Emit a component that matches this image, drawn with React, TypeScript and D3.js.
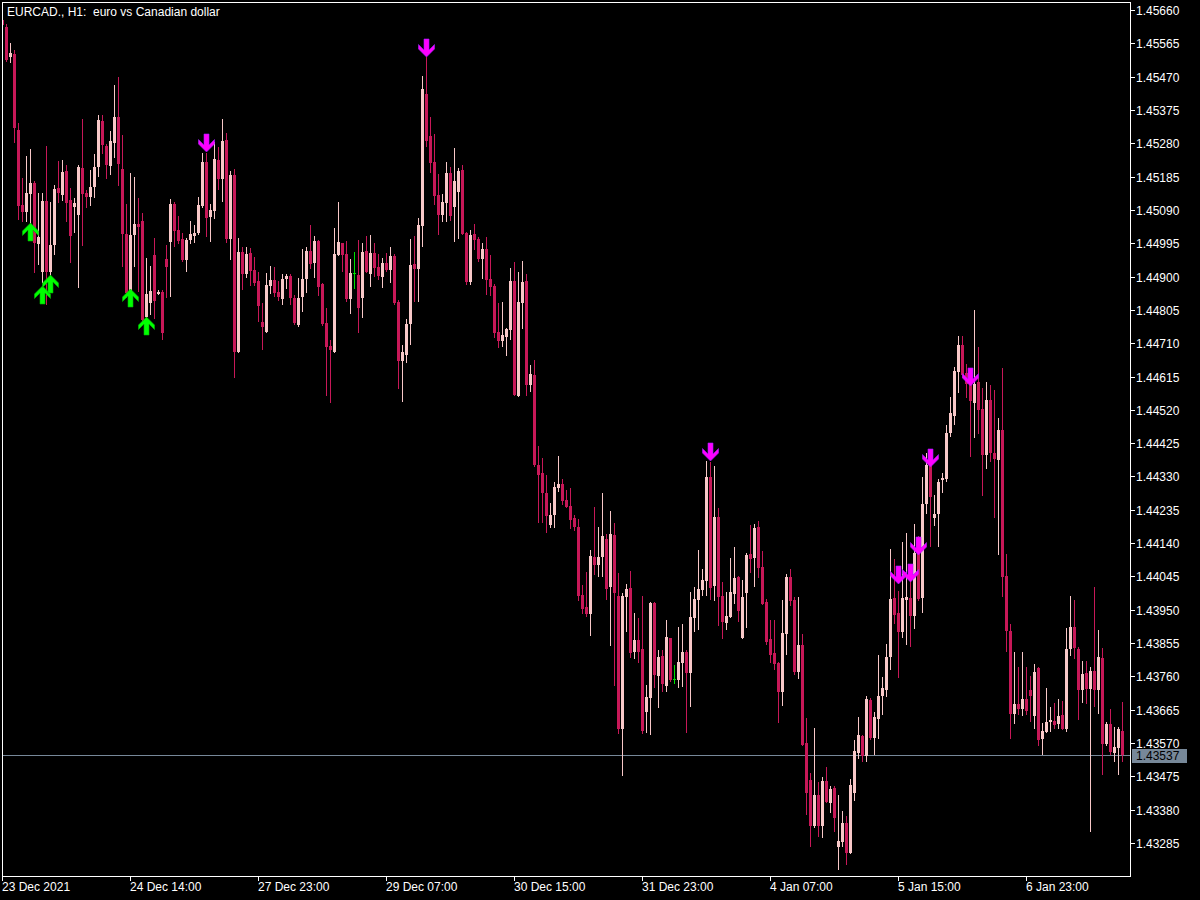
import React, { useEffect, useRef } from 'react';
import * as d3 from 'd3';

const chartTitle = 'EURCAD., H1:  euro vs Canadian dollar';

// hourly bars, left to right
const opens = [
  1.45632, 1.45612, 1.45526, 1.45535, 1.45318, 1.45104, 1.45084, 1.45135, 1.45167, 1.44993,
  1.44913, 1.45115, 1.44913, 1.44990, 1.45153, 1.45133, 1.45201, 1.45118, 1.45098, 1.45076,
  1.45210, 1.45138, 1.45127, 1.45155, 1.45212, 1.45344, 1.45272, 1.45215, 1.45281, 1.45355,
  1.45207, 1.45021, 1.44856, 1.45019, 1.45050, 1.45058, 1.44785, 1.44825, 1.44962, 1.44850,
  1.44856, 1.44950, 1.44999, 1.45107, 1.45033, 1.45007, 1.44947, 1.45004, 1.45016, 1.45024,
  1.45101, 1.45227, 1.45070, 1.45087, 1.45232, 1.45178, 1.45289, 1.45007, 1.45190, 1.44685,
  1.44970, 1.44907, 1.44967, 1.44919, 1.44887, 1.44771, 1.44742, 1.44873, 1.44890, 1.44856,
  1.44836, 1.44893, 1.44902, 1.44839, 1.44762, 1.44842, 1.44893, 1.44973, 1.44939, 1.45001,
  1.44879, 1.44768, 1.44702, 1.44685, 1.44962, 1.44996, 1.44964, 1.44836, 1.44910, 1.44905,
  1.44839, 1.44973, 1.44907, 1.44967, 1.44927, 1.44899, 1.44939, 1.44919, 1.44959, 1.44828,
  1.44659, 1.44676, 1.44765, 1.44936, 1.44922, 1.45044, 1.45420, 1.45301, 1.45227, 1.45133,
  1.45076, 1.45110, 1.45195, 1.45098, 1.45141, 1.45204, 1.45024, 1.44884, 1.45021, 1.45007,
  1.44950, 1.44979, 1.44893, 1.44873, 1.44742, 1.44716, 1.44728, 1.44748, 1.44887, 1.44560,
  1.44825, 1.44887, 1.44591, 1.44619, 1.44363, 1.44340, 1.44283, 1.44192, 1.44220, 1.44297,
  1.44309, 1.44263, 1.44246, 1.44212, 1.44186, 1.43992, 1.43958, 1.43938, 1.44100, 1.44078,
  1.44100, 1.44152, 1.44015, 1.44163, 1.43989, 1.43610, 1.43986, 1.44012, 1.43830, 1.43864,
  1.43838, 1.43658, 1.43698, 1.43969, 1.43761, 1.43818, 1.43733, 1.43870, 1.43753, 1.43750,
  1.43798, 1.43830, 1.43770, 1.43926, 1.43978, 1.44006, 1.44032, 1.44329, 1.44018, 1.44215,
  1.43989, 1.43912, 1.43929, 1.43995, 1.44043, 1.43870, 1.43998, 1.44109, 1.44098, 1.44186,
  1.44072, 1.43972, 1.43867, 1.43827, 1.43798, 1.43716, 1.43881, 1.44043, 1.43978, 1.43773,
  1.43850, 1.43570, 1.43465, 1.43334, 1.43422, 1.43334, 1.43462, 1.43399, 1.43442, 1.43274,
  1.43288, 1.43342, 1.43256, 1.43428, 1.43542, 1.43590, 1.43533, 1.43693, 1.43584, 1.43639,
  1.43704, 1.43721, 1.43815, 1.43984, 1.43941, 1.43887, 1.43978, 1.43984, 1.43932, 1.44112,
  1.43984, 1.44252, 1.44363, 1.44212, 1.44223, 1.44320, 1.44323, 1.44454, 1.44502, 1.44628,
  1.44705, 1.44625, 1.44599, 1.44540, 1.44599, 1.44522, 1.44391, 1.44548, 1.44397, 1.44377,
  1.44463, 1.44046, 1.43889, 1.43653, 1.43681, 1.43667, 1.43696, 1.43721, 1.43647, 1.43784,
  1.43582, 1.43601, 1.43630, 1.43633, 1.43624, 1.43650, 1.43610, 1.43838, 1.43901, 1.43838,
  1.43721, 1.43770, 1.43724, 1.43775, 1.43721, 1.43812, 1.43567, 1.43624, 1.43542, 1.43556,
  1.43604,
];

const highs = [
  1.45640, 1.45620, 1.45566, 1.45546, 1.45338, 1.45181, 1.45244, 1.45264, 1.45173, 1.45138,
  1.45138, 1.45272, 1.45113, 1.45161, 1.45230, 1.45232, 1.45218, 1.45153, 1.45124, 1.45218,
  1.45349, 1.45147, 1.45204, 1.45249, 1.45361, 1.45361, 1.45278, 1.45315, 1.45446, 1.45469,
  1.45304, 1.45107, 1.45195, 1.45184, 1.45124, 1.45081, 1.44953, 1.44930, 1.45010, 1.44862,
  1.44862, 1.44990, 1.45121, 1.45113, 1.45073, 1.45024, 1.45010, 1.45058, 1.45047, 1.45127,
  1.45252, 1.45252, 1.45107, 1.45284, 1.45269, 1.45349, 1.45309, 1.45201, 1.45207, 1.45010,
  1.44984, 1.44984, 1.44981, 1.44956, 1.44913, 1.44825, 1.44910, 1.44930, 1.44927, 1.44887,
  1.44907, 1.44907, 1.44907, 1.44847, 1.44896, 1.44979, 1.44984, 1.45047, 1.45016, 1.45004,
  1.44882, 1.44810, 1.44719, 1.45039, 1.45113, 1.44996, 1.45001, 1.44950, 1.44970, 1.45004,
  1.44996, 1.45016, 1.45019, 1.44996, 1.44964, 1.44953, 1.44967, 1.44984, 1.44964, 1.44833,
  1.44705, 1.44779, 1.45007, 1.45016, 1.45067, 1.45472, 1.45526, 1.45355, 1.45306, 1.45192,
  1.45135, 1.45227, 1.45212, 1.45266, 1.45210, 1.45218, 1.45027, 1.45033, 1.45050, 1.45013,
  1.44996, 1.45013, 1.44962, 1.44879, 1.44825, 1.44828, 1.44753, 1.44924, 1.44942, 1.44913,
  1.44944, 1.44907, 1.44648, 1.44662, 1.44417, 1.44383, 1.44334, 1.44254, 1.44314, 1.44388,
  1.44323, 1.44292, 1.44297, 1.44220, 1.44209, 1.44021, 1.44058, 1.44120, 1.44243, 1.44186,
  1.44283, 1.44166, 1.44232, 1.44197, 1.44055, 1.43998, 1.44024, 1.44061, 1.43941, 1.43926,
  1.43989, 1.43736, 1.43972, 1.43972, 1.43835, 1.43835, 1.43921, 1.43870, 1.43793, 1.43901,
  1.43909, 1.43835, 1.44001, 1.44015, 1.44120, 1.44066, 1.44374, 1.44371, 1.44360, 1.44240,
  1.44029, 1.44001, 1.44098, 1.44129, 1.44046, 1.44035, 1.44112, 1.44192, 1.44195, 1.44203,
  1.44118, 1.43981, 1.43921, 1.43921, 1.43801, 1.43978, 1.44052, 1.44066, 1.43986, 1.43986,
  1.43881, 1.43641, 1.43485, 1.43613, 1.43459, 1.43473, 1.43502, 1.43448, 1.43448, 1.43422,
  1.43376, 1.43362, 1.43467, 1.43579, 1.43644, 1.43593, 1.43704, 1.43698, 1.43658, 1.43821,
  1.43758, 1.43852, 1.44123, 1.44095, 1.44004, 1.44143, 1.44169, 1.44049, 1.44195, 1.44160,
  1.44329, 1.44397, 1.44386, 1.44277, 1.44323, 1.44340, 1.44477, 1.44557, 1.44642, 1.44731,
  1.44731, 1.44651, 1.44619, 1.44805, 1.44699, 1.44582, 1.44599, 1.44591, 1.44577, 1.44497,
  1.44639, 1.44109, 1.43909, 1.43830, 1.43787, 1.43830, 1.43787, 1.43761, 1.43795, 1.43787,
  1.43627, 1.43727, 1.43673, 1.43684, 1.43696, 1.43690, 1.43898, 1.43989, 1.43978, 1.43844,
  1.43804, 1.43804, 1.43787, 1.44015, 1.43892, 1.43841, 1.43630, 1.43667, 1.43616, 1.43616,
  1.43687,
];

const lows = [
  1.45609, 1.45512, 1.45509, 1.45281, 1.45061, 1.45056, 1.45056, 1.45039, 1.44910, 1.44933,
  1.44882, 1.44819, 1.44867, 1.44962, 1.45110, 1.45115, 1.45056, 1.44939, 1.45024, 1.44867,
  1.44987, 1.45096, 1.45101, 1.45124, 1.45184, 1.45249, 1.45178, 1.45190, 1.45238, 1.45158,
  1.44927, 1.44839, 1.44853, 1.44927, 1.44856, 1.44771, 1.44779, 1.44790, 1.44779, 1.44847,
  1.44719, 1.44839, 1.44842, 1.44984, 1.44993, 1.44942, 1.44913, 1.44993, 1.44996, 1.45019,
  1.45096, 1.45013, 1.44999, 1.45064, 1.45147, 1.45113, 1.44996, 1.44947, 1.44611, 1.44682,
  1.44862, 1.44896, 1.44873, 1.44873, 1.44771, 1.44691, 1.44739, 1.44850, 1.44842, 1.44830,
  1.44819, 1.44865, 1.44819, 1.44762, 1.44756, 1.44799, 1.44853, 1.44922, 1.44896, 1.44845,
  1.44759, 1.44560, 1.44540, 1.44682, 1.44959, 1.44913, 1.44828, 1.44793, 1.44865, 1.44739,
  1.44782, 1.44910, 1.44870, 1.44899, 1.44890, 1.44867, 1.44913, 1.44882, 1.44819, 1.44580,
  1.44542, 1.44654, 1.44705, 1.44828, 1.44828, 1.44984, 1.45269, 1.45195, 1.45104, 1.45019,
  1.45056, 1.45056, 1.45058, 1.44999, 1.45007, 1.45019, 1.44876, 1.44876, 1.44976, 1.44942,
  1.44893, 1.44847, 1.44845, 1.44725, 1.44696, 1.44699, 1.44674, 1.44719, 1.44560, 1.44557,
  1.44751, 1.44560, 1.44571, 1.44357, 1.44197, 1.44197, 1.44169, 1.44183, 1.44183, 1.44286,
  1.44249, 1.44240, 1.44180, 1.44175, 1.43975, 1.43938, 1.43929, 1.43875, 1.44049, 1.44043,
  1.44043, 1.43978, 1.43847, 1.43733, 1.43596, 1.43476, 1.43887, 1.43812, 1.43810, 1.43798,
  1.43596, 1.43599, 1.43593, 1.43727, 1.43670, 1.43716, 1.43716, 1.43744, 1.43738, 1.43727,
  1.43730, 1.43599, 1.43673, 1.43887, 1.43892, 1.43989, 1.43989, 1.43978, 1.43975, 1.43904,
  1.43867, 1.43892, 1.43926, 1.43966, 1.43915, 1.43867, 1.43898, 1.44055, 1.44015, 1.44041,
  1.43963, 1.43850, 1.43798, 1.43778, 1.43627, 1.43676, 1.43821, 1.43961, 1.43764, 1.43753,
  1.43562, 1.43365, 1.43274, 1.43328, 1.43302, 1.43299, 1.43399, 1.43371, 1.43316, 1.43208,
  1.43274, 1.43222, 1.43254, 1.43405, 1.43525, 1.43516, 1.43516, 1.43579, 1.43536, 1.43582,
  1.43650, 1.43701, 1.43778, 1.43909, 1.43755, 1.43870, 1.43850, 1.43844, 1.43895, 1.43975,
  1.43941, 1.44223, 1.44129, 1.44189, 1.44129, 1.44283, 1.44314, 1.44443, 1.44477, 1.44568,
  1.44611, 1.44554, 1.44386, 1.44440, 1.44451, 1.44274, 1.44351, 1.44371, 1.44212, 1.44106,
  1.43986, 1.43830, 1.43582, 1.43624, 1.43650, 1.43647, 1.43650, 1.43630, 1.43610, 1.43562,
  1.43536, 1.43599, 1.43601, 1.43610, 1.43610, 1.43607, 1.43601, 1.43818, 1.43810, 1.43636,
  1.43684, 1.43681, 1.43316, 1.43673, 1.43653, 1.43479, 1.43562, 1.43536, 1.43516, 1.43479,
  1.43516,
];

const closes = [
  1.45617, 1.45517, 1.45537, 1.45324, 1.45101, 1.45084, 1.45138, 1.45167, 1.44996, 1.45013,
  1.45115, 1.44913, 1.44990, 1.45150, 1.45138, 1.45198, 1.45110, 1.45016, 1.45110, 1.45212,
  1.45135, 1.45127, 1.45155, 1.45212, 1.45346, 1.45275, 1.45218, 1.45287, 1.45355, 1.45221,
  1.45021, 1.44853, 1.45019, 1.45050, 1.45041, 1.44776, 1.44850, 1.44859, 1.44830, 1.44856,
  1.44739, 1.44927, 1.45107, 1.45030, 1.45001, 1.44947, 1.45004, 1.45021, 1.45024, 1.45104,
  1.45227, 1.45067, 1.45090, 1.45235, 1.45178, 1.45287, 1.45007, 1.45190, 1.44685, 1.44970,
  1.44907, 1.44964, 1.44916, 1.44882, 1.44816, 1.44756, 1.44876, 1.44890, 1.44853, 1.44842,
  1.44893, 1.44902, 1.44839, 1.44768, 1.44839, 1.44893, 1.44973, 1.44936, 1.45001, 1.44870,
  1.44765, 1.44699, 1.44691, 1.44964, 1.44999, 1.44962, 1.44836, 1.44910, 1.44910, 1.44810,
  1.44970, 1.44913, 1.44967, 1.44924, 1.44902, 1.44939, 1.44919, 1.44959, 1.44825, 1.44659,
  1.44685, 1.44765, 1.44933, 1.44922, 1.45047, 1.45435, 1.45287, 1.45224, 1.45130, 1.45076,
  1.45113, 1.45195, 1.45073, 1.45173, 1.45201, 1.45021, 1.44884, 1.45019, 1.45004, 1.44950,
  1.44979, 1.44890, 1.44870, 1.44739, 1.44716, 1.44733, 1.44751, 1.44887, 1.44562, 1.44828,
  1.44884, 1.44591, 1.44622, 1.44363, 1.44334, 1.44283, 1.44217, 1.44220, 1.44300, 1.44309,
  1.44260, 1.44243, 1.44206, 1.44186, 1.43989, 1.43952, 1.43938, 1.44103, 1.44078, 1.44100,
  1.44160, 1.44009, 1.44166, 1.43998, 1.43610, 1.43989, 1.44009, 1.43827, 1.43864, 1.43830,
  1.43604, 1.43701, 1.43969, 1.43764, 1.43815, 1.43738, 1.43872, 1.43750, 1.43753, 1.43801,
  1.43830, 1.43770, 1.43929, 1.43981, 1.44009, 1.44035, 1.44329, 1.44012, 1.44215, 1.43986,
  1.43915, 1.43932, 1.44001, 1.44041, 1.43946, 1.43986, 1.44106, 1.44095, 1.44183, 1.44069,
  1.43966, 1.43858, 1.43821, 1.43795, 1.43716, 1.43884, 1.44043, 1.43975, 1.43773, 1.43850,
  1.43564, 1.43428, 1.43334, 1.43422, 1.43334, 1.43462, 1.43402, 1.43439, 1.43356, 1.43291,
  1.43342, 1.43256, 1.43450, 1.43547, 1.43593, 1.43533, 1.43696, 1.43584, 1.43644, 1.43704,
  1.43727, 1.43815, 1.43981, 1.43935, 1.43887, 1.43984, 1.43986, 1.43932, 1.44112, 1.43981,
  1.44252, 1.44363, 1.44272, 1.44223, 1.44314, 1.44326, 1.44454, 1.44511, 1.44631, 1.44705,
  1.44619, 1.44594, 1.44545, 1.44594, 1.44520, 1.44391, 1.44548, 1.44397, 1.44380, 1.44463,
  1.44043, 1.43889, 1.43653, 1.43681, 1.43667, 1.43696, 1.43661, 1.43704, 1.43773, 1.43579,
  1.43604, 1.43630, 1.43636, 1.43621, 1.43647, 1.43610, 1.43838, 1.43901, 1.43841, 1.43721,
  1.43767, 1.43724, 1.43775, 1.43721, 1.43815, 1.43567, 1.43624, 1.43544, 1.43559, 1.43610,
  1.43537,
];

const priceTicks = [
  1.4566, 1.45565, 1.4547, 1.45375, 1.4528, 1.45185, 1.4509, 1.44995, 1.449, 1.44805,
  1.4471, 1.44615, 1.4452, 1.44425, 1.4433, 1.44235, 1.4414, 1.44045, 1.4395, 1.43855,
  1.4376, 1.43665, 1.4357, 1.43475, 1.4338, 1.43285,
];

const timeTickBars = [0, 32, 64, 96, 128, 160, 192, 224, 256];
const timeTickLabels = [
  '23 Dec 2021', '24 Dec 14:00', '27 Dec 23:00', '29 Dec 07:00', '30 Dec 15:00',
  '31 Dec 23:00', '4 Jan 07:00', '5 Jan 15:00', '6 Jan 23:00',
];

// indicator signals: bar index + price where the arrow tip sits
const buyBars = [7, 10, 12, 32, 36];
const buyPrices = [1.45053, 1.44873, 1.44905, 1.44865, 1.44785];
const sellBars = [51, 106, 177, 224, 227, 229, 232, 242];
const sellPrices = [1.45255, 1.45526, 1.44374, 1.44024, 1.44029, 1.44106, 1.44357, 1.44588];

const bidPrice = 1.43537;

const BULL = '#f8c8c8';
const BEAR = '#c71858';
const DOJI = '#00e000';
const AXIS = '#ffffff';
const BID = '#778899';

const CandleChart: React.FC = () => {
  const svgRef = useRef<SVGSVGElement>(null);

  useEffect(() => {
    if (!svgRef.current) return;
    const svg = d3.select(svgRef.current);
    svg.selectAll('*').remove();

    const width = 1200;
    const height = 900;
    const plot = { left: 2.5, top: 2.5, right: 1130.5, bottom: 876.5 };
    const font = '"Liberation Sans", Arial, sans-serif';

    // 4px per bar, first bar sits right on the left frame
    const n = opens.length;
    const x = d3.scaleLinear().domain([0, n - 1]).range([2.5, 2.5 + 4 * (n - 1)]);
    const y = d3.scaleLinear().domain([1.43285, 1.4566]).range([843, 10]);
    const py = (v: number) => Math.round(y(v));

    svg.append('rect')
      .attr('width', width)
      .attr('height', height)
      .attr('fill', '#000');

    svg.append('defs').append('clipPath')
      .attr('id', 'plot-area')
      .append('rect')
      .attr('x', 3)
      .attr('y', 3)
      .attr('width', plot.right - 3.5)
      .attr('height', plot.bottom - 3.5);

    // bid line under the bars
    svg.append('line')
      .attr('x1', plot.left)
      .attr('x2', plot.right)
      .attr('y1', py(bidPrice) + 0.5)
      .attr('y2', py(bidPrice) + 0.5)
      .attr('stroke', BID)
      .attr('stroke-width', 1);

    const bars = d3.range(n).map(i => ({
      i,
      o: opens[i],
      h: Math.max(highs[i], opens[i], closes[i]),
      l: Math.min(lows[i], opens[i], closes[i]),
      c: closes[i],
    }));
    const colorOf = (d: { o: number; c: number }) =>
      d.c > d.o ? BULL : d.c < d.o ? BEAR : DOJI;

    const candles = svg.append('g')
      .attr('clip-path', 'url(#plot-area)')
      .attr('shape-rendering', 'crispEdges');

    candles.selectAll('rect.wick')
      .data(bars)
      .join('rect')
      .attr('class', 'wick')
      .attr('x', d => x(d.i) - 0.5)
      .attr('width', 1)
      .attr('y', d => py(d.h))
      .attr('height', d => Math.max(1, py(d.l) - py(d.h)))
      .attr('fill', colorOf);

    candles.selectAll('rect.body')
      .data(bars)
      .join('rect')
      .attr('class', 'body')
      .attr('x', d => x(d.i) - 1.5)
      .attr('width', 3)
      .attr('y', d => py(Math.max(d.o, d.c)))
      .attr('height', d => Math.max(1, py(Math.min(d.o, d.c)) - py(Math.max(d.o, d.c))))
      .attr('fill', colorOf);

    // arrows (tip at the signal price)
    const upArrow = (cx: number, ty: number) =>
      `M${cx},${ty} L${cx + 8},${ty + 8} L${cx + 8},${ty + 12.5} L${cx + 2.5},${ty + 7} ` +
      `L${cx + 2.5},${ty + 18} L${cx - 2.5},${ty + 18} L${cx - 2.5},${ty + 7} ` +
      `L${cx - 8},${ty + 12.5} L${cx - 8},${ty + 8} Z`;
    const downArrow = (cx: number, ty: number) =>
      `M${cx},${ty} L${cx + 8},${ty - 8} L${cx + 8},${ty - 12.5} L${cx + 2.5},${ty - 7} ` +
      `L${cx + 2.5},${ty - 18} L${cx - 2.5},${ty - 18} L${cx - 2.5},${ty - 7} ` +
      `L${cx - 8},${ty - 12.5} L${cx - 8},${ty - 8} Z`;

    svg.append('g')
      .selectAll('path')
      .data(buyBars.map((b, k) => ({ b, p: buyPrices[k] })))
      .join('path')
      .attr('d', d => upArrow(x(d.b), py(d.p)))
      .attr('fill', '#00ff00')
      .attr('stroke', '#00b400')
      .attr('stroke-width', 0.6);

    svg.append('g')
      .selectAll('path')
      .data(sellBars.map((b, k) => ({ b, p: sellPrices[k] })))
      .join('path')
      .attr('d', d => downArrow(x(d.b), py(d.p)))
      .attr('fill', '#ff00ff')
      .attr('stroke', '#a020ff')
      .attr('stroke-width', 0.6);

    // frame
    svg.append('rect')
      .attr('x', plot.left)
      .attr('y', plot.top)
      .attr('width', plot.right - plot.left)
      .attr('height', plot.bottom - plot.top)
      .attr('fill', 'none')
      .attr('stroke', AXIS)
      .attr('stroke-width', 1)
      .attr('shape-rendering', 'crispEdges');

    // price scale
    const priceAxis = svg.append('g').attr('shape-rendering', 'crispEdges');
    priceAxis.selectAll('line')
      .data(priceTicks)
      .join('line')
      .attr('x1', plot.right)
      .attr('x2', plot.right + 4)
      .attr('y1', d => py(d) + 0.5)
      .attr('y2', d => py(d) + 0.5)
      .attr('stroke', AXIS);
    priceAxis.selectAll('text')
      .data(priceTicks)
      .join('text')
      .attr('x', 1136)
      .attr('y', d => py(d) + 4.5)
      .attr('font-family', font)
      .attr('font-size', 12)
      .attr('fill', AXIS)
      .text(d => d.toFixed(5));

    // bid label
    svg.append('rect')
      .attr('x', 1132)
      .attr('y', py(bidPrice) - 6)
      .attr('width', 55)
      .attr('height', 14)
      .attr('fill', BID);
    svg.append('text')
      .attr('x', 1136)
      .attr('y', py(bidPrice) + 5)
      .attr('font-family', font)
      .attr('font-size', 12)
      .attr('fill', '#000')
      .text(bidPrice.toFixed(5));

    // time scale
    const timeAxis = svg.append('g');
    timeAxis.selectAll('line')
      .data(timeTickBars)
      .join('line')
      .attr('x1', d => x(d))
      .attr('x2', d => x(d))
      .attr('y1', plot.bottom)
      .attr('y2', plot.bottom + 4)
      .attr('stroke', AXIS)
      .attr('shape-rendering', 'crispEdges');
    timeAxis.selectAll('text')
      .data(timeTickBars)
      .join('text')
      .attr('x', d => x(d) - 0.5)
      .attr('y', 891)
      .attr('font-family', font)
      .attr('font-size', 12)
      .attr('fill', AXIS)
      .text((d, k) => timeTickLabels[k]);

    svg.append('text')
      .attr('x', 7)
      .attr('y', 16)
      .attr('font-family', font)
      .attr('font-size', 12)
      .attr('fill', AXIS)
      .style('white-space', 'pre')
      .text(chartTitle);
  }, []);

  return <svg ref={svgRef} width={1200} height={900} style={{ display: 'block' }} />;
};

export default function App() {
  return (
    <div style={{ position: 'fixed', left: 0, top: 0, width: 1200, height: 900, background: '#000' }}>
      <CandleChart />
    </div>
  );
}
